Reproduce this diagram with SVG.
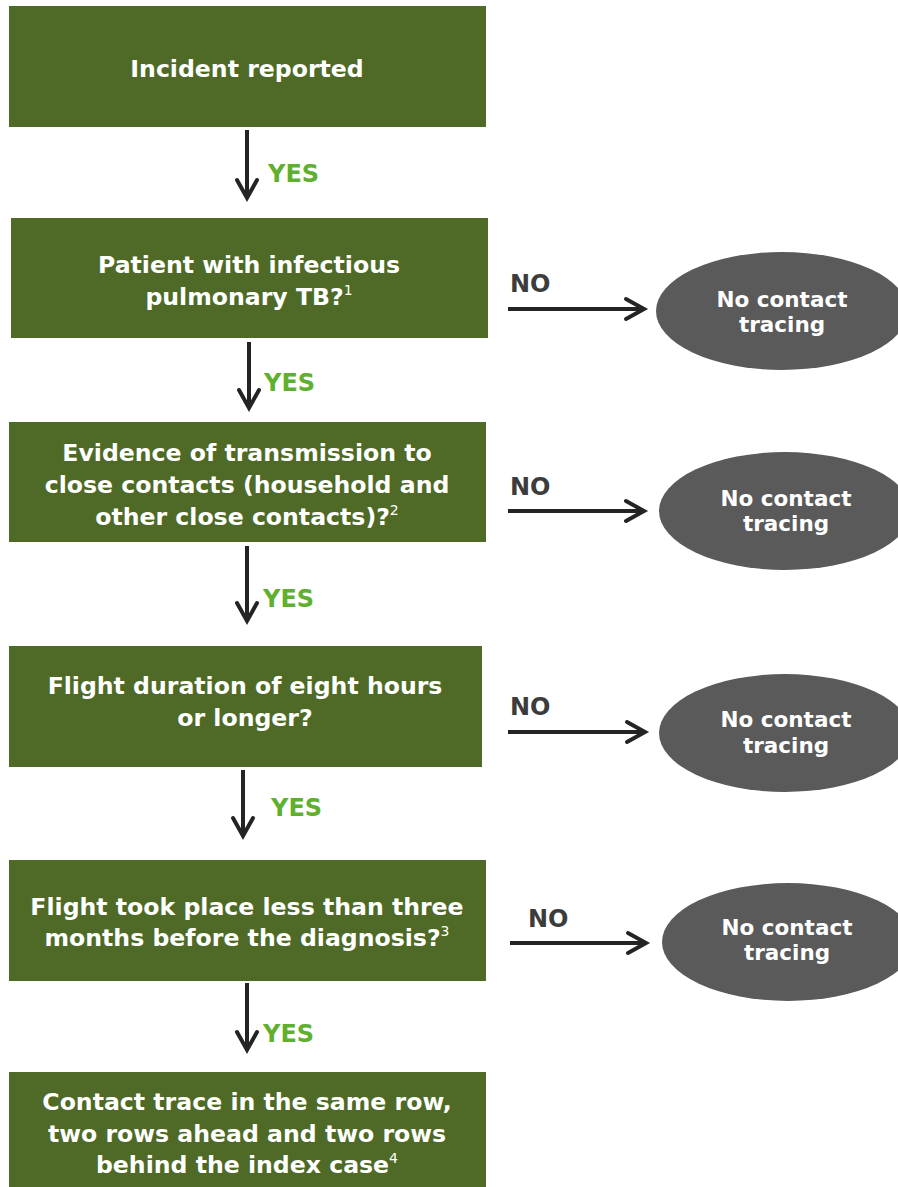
<svg xmlns="http://www.w3.org/2000/svg" width="898" height="1187" viewBox="0 0 898 1187">
<style>
.box{fill:#4e6a26}
.oval{fill:#5a5a5a}
.bt{font-family:"DejaVu Sans",Verdana,sans-serif;font-weight:bold;font-size:23.6px;fill:#ffffff;text-anchor:middle}
.ot{font-family:"DejaVu Sans",Verdana,sans-serif;font-weight:bold;font-size:21.5px;fill:#ffffff;text-anchor:middle}
.sup{font-weight:normal;font-size:14px}
.yes{font-family:"DejaVu Sans",Verdana,sans-serif;font-weight:bold;font-size:24px;fill:#5fb02f}
.no{font-family:"DejaVu Sans",Verdana,sans-serif;font-weight:bold;font-size:24px;fill:#3c3c3c}
.ln{stroke:#242424;stroke-width:4;fill:none}
.hd{stroke:#242424;stroke-width:4;fill:none;stroke-linecap:round;stroke-linejoin:miter}
</style>
<rect width="898" height="1187" fill="#ffffff"/>
<g id="n1"><rect class="box" x="9" y="6" width="477" height="121"/><text class="bt" x="247" y="77">Incident reported</text></g>
<g id="n2"><rect class="box" x="11" y="218" width="477" height="120"/><text class="bt" x="249" y="273">Patient with infectious</text><text class="bt" x="249" y="305">pulmonary TB?<tspan class="sup" dy="-10">1</tspan></text></g>
<g id="n3"><rect class="box" x="9" y="422" width="477" height="120"/><text class="bt" x="247" y="461">Evidence of transmission to</text><text class="bt" x="247" y="493">close contacts (household and</text><text class="bt" x="247" y="525">other close contacts)?<tspan class="sup" dy="-10">2</tspan></text></g>
<g id="n4"><rect class="box" x="9" y="646" width="473" height="121"/><text class="bt" x="245" y="694">Flight duration of eight hours</text><text class="bt" x="245" y="726">or longer?</text></g>
<g id="n5"><rect class="box" x="9" y="860" width="477" height="121"/><text class="bt" x="247" y="915">Flight took place less than three</text><text class="bt" x="247" y="946">months before the diagnosis?<tspan class="sup" dy="-10">3</tspan></text></g>
<g id="n6"><rect class="box" x="9" y="1072" width="477" height="120"/><text class="bt" x="247" y="1110">Contact trace in the same row,</text><text class="bt" x="247" y="1142">two rows ahead and two rows</text><text class="bt" x="247" y="1173">behind the index case<tspan class="sup" dy="-10">4</tspan></text></g>
<g id="o1"><ellipse class="oval" cx="782" cy="311" rx="126" ry="59"/><text class="ot" x="782" y="307">No contact</text><text class="ot" x="782" y="332">tracing</text></g>
<g id="o2"><ellipse class="oval" cx="785" cy="511" rx="126" ry="59"/><text class="ot" x="786" y="506">No contact</text><text class="ot" x="786" y="531">tracing</text></g>
<g id="o3"><ellipse class="oval" cx="785" cy="733" rx="126" ry="59"/><text class="ot" x="786" y="727">No contact</text><text class="ot" x="786" y="753">tracing</text></g>
<g id="o4"><ellipse class="oval" cx="788" cy="942" rx="126" ry="59"/><text class="ot" x="787" y="935">No contact</text><text class="ot" x="787" y="960">tracing</text></g>
<g id="connectors">
<line class="ln" x1="247" y1="130" x2="247" y2="198"/><polyline class="hd" points="237,180 247,198 257,180"/>
<line class="ln" x1="249" y1="342" x2="249" y2="408"/><polyline class="hd" points="239,390 249,408 259,390"/>
<line class="ln" x1="247" y1="546" x2="247" y2="621"/><polyline class="hd" points="237,603 247,621 257,603"/>
<line class="ln" x1="243" y1="770" x2="243" y2="836"/><polyline class="hd" points="233,818 243,836 253,818"/>
<line class="ln" x1="247" y1="983" x2="247" y2="1050"/><polyline class="hd" points="237,1032 247,1050 257,1032"/>
<line class="ln" x1="508" y1="309" x2="644" y2="309"/><polyline class="hd" points="626,299 644,309 626,319"/>
<line class="ln" x1="508" y1="511" x2="644" y2="511"/><polyline class="hd" points="626,501 644,511 626,521"/>
<line class="ln" x1="508" y1="732" x2="645" y2="732"/><polyline class="hd" points="627,722 645,732 627,742"/>
<line class="ln" x1="510" y1="943" x2="646" y2="943"/><polyline class="hd" points="628,933 646,943 628,953"/>
<text class="yes" x="268" y="182">YES</text>
<text class="yes" x="264" y="391">YES</text>
<text class="yes" x="263" y="607">YES</text>
<text class="yes" x="271" y="816">YES</text>
<text class="yes" x="263" y="1042">YES</text>
<text class="no" x="510" y="292">NO</text>
<text class="no" x="510" y="495">NO</text>
<text class="no" x="510" y="715">NO</text>
<text class="no" x="528" y="927">NO</text>
</g>
</svg>
